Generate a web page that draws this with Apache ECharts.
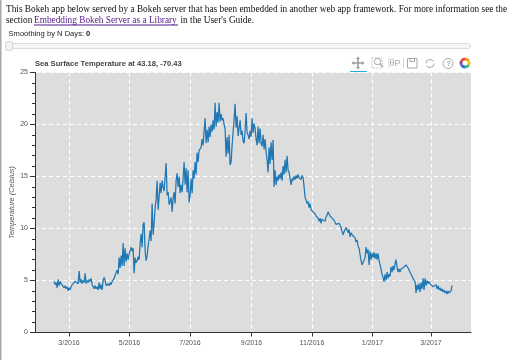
<!DOCTYPE html>
<html><head><meta charset="utf-8">
<script src="https://cdn.jsdelivr.net/npm/echarts@6/dist/echarts.min.js"></script>
<style>html,body{margin:0;padding:0;background:#fff}#c{width:517px;height:360px}</style>
</head><body><div id="c"></div>
<script>
const titleText = "Sea Surface Temperature at 43.18, -70.43";
const yAxisName = "Temperature (Celsius)";
const tickDays = [0,61,122,184,245,306,365];   // days since 2016-03-01
const tickLabels = ["3/2016","5/2016","7/2016","9/2016","11/2016","1/2017","3/2017"];
const firstSampleDay = -15;
const daysPerSample = 1.008;
const temps = [
4.9,4.6,4.8,4.3,5.1,4.5,4.9,4.7,4.8,4.7,
4.3,4.5,4.2,4.4,4.0,4.3,4.1,4.4,4.6,4.7,
4.7,4.9,4.8,5.0,4.7,5.9,4.8,5.1,4.7,5.0,
4.8,5.7,4.7,5.0,4.8,5.1,4.9,5.2,4.6,4.4,
4.2,4.5,4.2,4.4,4.1,4.8,4.2,4.6,4.1,5.0,
5.3,5.0,4.5,4.4,4.7,4.5,4.8,4.6,4.9,4.8,
5.2,5.5,5.4,6.0,5.6,7.2,6.2,7.4,6.4,8.6,
6.4,8.1,6.8,7.6,7.0,7.5,7.9,8.2,7.8,8.1,
5.7,7.2,6.7,6.9,7.3,7.0,8.5,9.5,8.2,10.4,
10.6,7.8,6.9,7.4,8.3,9.0,9.8,8.8,12.4,9.4,
10.5,12.0,12.8,14.6,11.8,13.0,14.4,13.4,14.6,14.0,
13.6,15.0,16.3,13.2,13.5,12.3,12.6,13.0,11.6,12.9,
13.5,12.4,14.6,15.3,14.0,15.0,13.4,14.2,13.5,14.8,
16.4,14.2,15.8,13.5,15.6,12.5,13.2,14.8,13.4,15.6,
14.8,16.4,15.2,17.3,16.4,17.5,17.4,17.8,18.6,18.0,
19.4,20.6,18.2,19.5,18.3,19.8,18.8,20.0,19.3,20.4,
19.5,22.1,19.8,21.2,20.2,22.1,20.3,21.0,20.4,20.6,
20.0,19.6,16.9,18.8,17.2,19.0,16.1,16.4,18.0,19.2,
20.5,22.0,19.7,20.8,18.9,19.6,20.4,19.0,19.4,18.4,
18.2,19.4,21.1,19.2,19.0,18.6,19.4,18.8,20.6,19.2,
20.1,19.6,18.6,18.0,19.8,18.2,19.6,18.2,17.9,19.0,
17.6,18.6,17.4,16.6,15.4,17.8,16.2,18.3,16.6,18.5,
14.0,15.6,14.2,15.0,14.6,15.2,14.8,15.4,14.6,16.0,
15.2,16.6,15.4,17.0,15.6,15.4,14.8,14.2,14.8,14.6,
15.0,14.7,15.1,14.8,15.2,14.9,15.0,14.7,15.1,14.9,
14.0,13.0,12.7,12.4,12.6,12.0,12.4,11.8,11.9,11.6,
11.7,11.4,11.2,11.3,11.0,10.7,11.0,10.5,10.9,10.8,
11.0,10.7,11.1,11.3,11.6,11.5,11.2,11.3,11.0,10.9,
10.8,10.6,10.4,10.5,10.3,10.5,10.4,10.1,9.7,9.4,
9.7,9.8,10.1,10.2,9.6,9.9,9.2,9.6,9.4,9.5,
9.3,9.1,8.7,8.9,8.3,8.1,7.5,6.9,6.5,6.6,
6.4,7.2,8.2,7.6,8.0,6.5,7.8,7.0,7.6,7.2,
7.7,7.1,7.6,7.0,7.6,6.9,6.5,6.1,5.6,5.3,
4.9,5.6,5.0,5.8,5.2,5.6,5.4,6.3,5.8,6.4,
6.0,6.6,7.0,6.3,5.8,6.1,5.8,6.1,6.0,6.2,
6.3,6.4,6.5,6.4,6.2,6.0,5.8,5.6,5.4,5.2,
5.1,4.9,3.8,4.6,4.1,4.7,3.9,4.8,4.2,5.2,
4.1,5.2,4.5,5.0,4.7,4.9,4.7,4.8,4.6,4.4,
4.5,4.3,4.6,4.2,4.5,4.1,4.3,4.0,4.2,3.9,
4.1,3.8,4.0,3.7,4.0,3.8,3.7,4.0,4.5
];
const xMin = -34.3, xMax = 405.3;

const points = temps.map((v, i) => [firstSampleDay + i * daysPerSample, v]);

const serif = '"Liberation Serif","Times New Roman",serif';
const sans = '"Liberation Sans",Arial,sans-serif';
const iconGrey = '#a6a6a6';
function txt(x, y, text, font, fill, extra) {
  return Object.assign({type:'text', x, y, silent:true,
    style:{text, font, fill, textVerticalAlign:'middle'}}, extra||{});
}
const logoColors = ['#f39c12','#f1c40f','#2ecc71','#2f6fd0','#8e44ad','#e74c3c'];
const logo = logoColors.map((c, i) => ({type:'sector', silent:true,
  shape:{cx:465, cy:63, r:5.5, r0:2.6, startAngle:i*Math.PI/3 - Math.PI/2, endAngle:(i+1)*Math.PI/3 - Math.PI/2},
  style:{fill:c}}));

const graphics = [
  {type:'rect', silent:true, shape:{x:0,y:0,width:1.5,height:360}, style:{fill:'#a9a9a9'}},
  txt(6, 10, "This Bokeh app below served by a Bokeh server that has been embedded in another web app framework. For more information see the", '9.3px '+serif, '#111'),
  txt(6, 20.5, "section", '9.3px '+serif, '#111'),
  txt(34, 20.5, "Embedding Bokeh Server as a Library", '9.3px '+serif, '#551a8b'),
  {type:'rect', silent:true, shape:{x:34,y:24.5,width:144,height:1}, style:{fill:'#551a8b'}},
  txt(180.5, 20.5, "in the User's Guide.", '9.3px '+serif, '#111'),
  txt(8.5, 33.5, "Smoothing by N Days:", '7.6px '+sans, '#222'),
  txt(86, 33.5, "0", 'bold 7.6px '+sans, '#222'),
  {type:'rect', silent:true, shape:{x:5.5,y:43.5,width:465,height:5,r:2.5}, style:{fill:'#f5f5f5',stroke:'#dcdcdc',lineWidth:1}},
  {type:'rect', silent:true, shape:{x:5.5,y:41.5,width:7,height:9,r:2}, style:{fill:'#f2f2f2',stroke:'#d2d2d2',lineWidth:1}},
  txt(35, 63.5, titleText, 'bold 7.6px '+sans, '#444'),
  {type:'rect', silent:true, shape:{x:350,y:71,width:17,height:1}, style:{fill:'#26aae1'}},
  {type:'line', silent:true, shape:{x1:353,y1:63,x2:363,y2:63}, style:{stroke:'#999',lineWidth:1.5}},
  {type:'line', silent:true, shape:{x1:358,y1:58,x2:358,y2:68}, style:{stroke:'#999',lineWidth:1.5}},
  {type:'polygon', silent:true, shape:{points:[[351.5,63],[354,61],[354,65]]}, style:{fill:'#999'}},
  {type:'polygon', silent:true, shape:{points:[[364.5,63],[362,61],[362,65]]}, style:{fill:'#999'}},
  {type:'polygon', silent:true, shape:{points:[[358,56.5],[356,59],[360,59]]}, style:{fill:'#999'}},
  {type:'polygon', silent:true, shape:{points:[[358,69.5],[356,67],[360,67]]}, style:{fill:'#999'}},
  {type:'rect', silent:true, shape:{x:372,y:58,width:10,height:10}, style:{fill:'none',stroke:'#b5b5b5',lineWidth:1,lineDash:[1.5,1.5]}},
  {type:'circle', silent:true, shape:{cx:377.5,cy:61.5,r:3.2}, style:{fill:'#fff',stroke:iconGrey,lineWidth:1}},
  {type:'line', silent:true, shape:{x1:380,y1:64,x2:383,y2:67}, style:{stroke:iconGrey,lineWidth:1.2}},
  {type:'rect', silent:true, shape:{x:388.5,y:58,width:.8,height:10}, style:{fill:'#ccc'}},
  txt(389.5, 63.5, "θP", '9px '+sans, iconGrey),
  {type:'rect', silent:true, shape:{x:403,y:58,width:.8,height:10}, style:{fill:'#ccc'}},
  {type:'rect', silent:true, shape:{x:407.5,y:58.5,width:9.5,height:9.5}, style:{fill:'none',stroke:iconGrey,lineWidth:1}},
  {type:'rect', silent:true, shape:{x:410,y:58.5,width:4.5,height:3}, style:{fill:'none',stroke:iconGrey,lineWidth:1}},
  {type:'circle', silent:true, shape:{cx:430,cy:63.5,r:4}, style:{fill:'none',stroke:iconGrey,lineWidth:1,lineDash:[10,2.5]}},
  {type:'circle', silent:true, shape:{cx:448,cy:63.5,r:5}, style:{fill:'none',stroke:iconGrey,lineWidth:1}},
  txt(446.2, 64, "?", 'bold 7.5px '+sans, iconGrey),
  ...logo
];

const chart = echarts.init(document.getElementById('c'), null, {renderer:'canvas'});
chart.setOption({
  animation:false,
  graphic:graphics,
  grid:{left:35, top:72.5, width:436, height:260, show:true, backgroundColor:'#dddddd', borderWidth:0, outerBoundsMode:'none', containLabel:false},
  xAxis:{type:'value', min:xMin, max:xMax,
    axisLine:{onZero:false, lineStyle:{color:'#333', width:1}},
    axisTick:{length:4, customValues:tickDays, lineStyle:{color:'#333'}},
    axisLabel:{customValues:tickDays, fontSize:7, fontFamily:sans, color:'#555', margin:7, hideOverlap:false,
      showMinLabel:true, showMaxLabel:true,
      formatter:v => tickLabels[tickDays.indexOf(v)] || ''},
    splitLine:{show:true, customValues:tickDays, lineStyle:{color:'#fff', type:[4,3], width:1}}
  },
  yAxis:{type:'value', min:0, max:25, interval:5,
    name:yAxisName, nameLocation:'middle', nameGap:20, nameMoveOverlap:false,
    nameTextStyle:{fontSize:7.4, fontStyle:'italic', fontFamily:sans, color:'#555'},
    axisLine:{show:true, onZero:false, lineStyle:{color:'#333', width:1}},
    axisTick:{show:true, length:5, lineStyle:{color:'#333'}},
    minorTick:{show:true, splitNumber:5, length:3, lineStyle:{color:'#333'}},
    axisLabel:{fontSize:7, fontFamily:sans, color:'#555', margin:7},
    splitLine:{show:true, lineStyle:{color:'#fff', type:[4,3], width:1}}
  },
  series:[{type:'line', data:points, showSymbol:false, symbol:'none', smooth:false,
    lineStyle:{color:'#1f77b4', width:1.25}, z:5}]
});
</script></body></html>
